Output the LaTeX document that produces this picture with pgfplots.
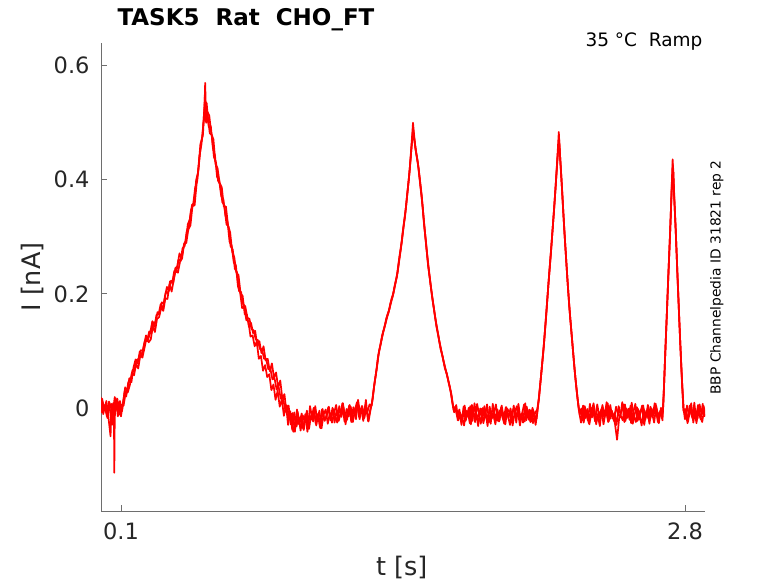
\documentclass[border=0pt]{standalone}
\usepackage{pgfplots}
\pgfplotsset{compat=1.18}
\usepackage{fontspec}
\setmainfont{DejaVu Sans}
\definecolor{axgray}{RGB}{38,38,38}
\definecolor{linegray}{RGB}{110,110,110}
\pgfplotsset{trace/.style={red, line width=1.7bp, line join=round, no marks}}
\begin{document}
\begin{tikzpicture}
\path[use as bounding box] (0,0) rectangle (778bp,583bp);
\begin{axis}[
  at={(101bp,72bp)}, anchor=south west,
  scale only axis, width=604bp, height=468bp,
  xmin=0.0043, xmax=2.896, ymin=-0.181, ymax=0.640,
  axis x line*=bottom, axis y line*=left,
  axis line style={linegray, line width=0.8bp},
  tick style={linegray, line width=0.8bp},
  tick align=inside, major tick length=6bp,
  xtick={0.1,2.8}, xticklabels={0.1,2.8},
  ytick={0,0.2,0.4,0.6}, yticklabels={0,0.2,0.4,0.6},
  ticklabel style={font=\fontsize{22.5bp}{27bp}\selectfont, text=axgray},
  xticklabel style={yshift=-8bp},
  yticklabel style={xshift=-8bp},
  xlabel={t [s]}, ylabel={I [nA]},
  label style={font=\fontsize{25.5bp}{30bp}\selectfont, text=axgray},
  xlabel style={at={(rel axis cs:0.498,-0.1197)}, anchor=center},
  ylabel style={at={(rel axis cs:-0.1126,0.5)}, anchor=center, rotate=0},
  clip=true,
]
% trace 1
\addplot[trace] coordinates {
(0.005,0.014)(0.015,-0.011)(0.025,0.006)(0.035,-0.018)(0.045,0.009)(0.055,-0.003)(0.062,-0.030)(0.066,0.005)(0.068,-0.114)(0.070,-0.020)(0.075,0.017)(0.085,-0.015)(0.095,0.012)(0.105,-0.006)(0.115,0.022)
(0.12,0.036)(0.13,0.029)(0.14,0.052)(0.15,0.045)(0.16,0.071)(0.17,0.085)(0.18,0.078)(0.19,0.099)(0.20,0.092)(0.21,0.111)(0.22,0.127)(0.23,0.120)(0.24,0.132)(0.25,0.152)(0.26,0.142)(0.27,0.163)(0.28,0.164)(0.29,0.182)(0.30,0.173)(0.31,0.195)(0.32,0.212)(0.33,0.205)(0.34,0.223)(0.35,0.219)(0.36,0.245)(0.37,0.248)(0.38,0.271)(0.39,0.262)(0.40,0.283)(0.41,0.293)(0.42,0.322)(0.43,0.331)(0.44,0.356)(0.45,0.359)(0.46,0.400)(0.47,0.414)(0.48,0.462)(0.49,0.476)(0.50,0.529)(0.503,0.570)(0.507,0.515)
(0.51,0.535)(0.52,0.493)(0.53,0.494)(0.54,0.456)(0.55,0.442)(0.56,0.405)(0.57,0.399)(0.58,0.371)(0.59,0.366)(0.60,0.337)(0.61,0.326)(0.62,0.291)(0.63,0.284)(0.64,0.255)(0.65,0.250)(0.66,0.213)(0.67,0.203)(0.68,0.175)(0.69,0.177)(0.70,0.154)(0.71,0.152)(0.72,0.125)(0.73,0.127)(0.74,0.108)(0.75,0.116)(0.76,0.086)(0.77,0.091)(0.78,0.065)(0.79,0.075)(0.80,0.054)(0.81,0.059)(0.82,0.031)(0.83,0.041)(0.84,0.014)(0.85,0.030)(0.86,0.002)(0.87,0.015)(0.88,-0.014)(0.89,0.005)(0.90,-0.030)(0.91,-0.006)(0.92,-0.039)
(0.93,-0.008)(0.94,-0.033)(0.95,-0.016)(0.96,-0.040)(0.97,-0.013)(0.98,-0.025)(0.99,-0.005)(1.00,-0.037)(1.01,-0.014)(1.02,-0.024)(1.03,0.003)(1.04,-0.022)(1.05,-0.005)(1.06,-0.036)(1.07,-0.012)(1.08,-0.003)(1.09,-0.028)(1.10,-0.009)(1.11,-0.026)(1.12,-0.009)(1.13,0.005)(1.14,-0.019)(1.15,-0.012)(1.16,0.008)(1.17,-0.024)(1.18,-0.002)(1.19,-0.015)(1.20,0.002)(1.21,-0.025)(1.22,-0.003)(1.23,0.010)(1.24,-0.016)(1.25,-0.001)(1.26,-0.023)(1.27,0.004)(1.28,-0.007)(1.29,0.006)
(1.30,0.004)(1.31,0.033)(1.32,0.058)(1.33,0.088)(1.34,0.106)(1.35,0.127)(1.36,0.139)(1.37,0.157)(1.38,0.166)(1.39,0.184)(1.40,0.195)(1.41,0.214)(1.42,0.229)(1.43,0.257)(1.44,0.280)(1.45,0.312)(1.46,0.336)(1.47,0.374)(1.48,0.408)(1.49,0.457)(1.498,0.500)(1.505,0.472)(1.51,0.453)(1.52,0.434)(1.53,0.403)(1.54,0.372)(1.55,0.325)(1.56,0.292)(1.57,0.250)(1.58,0.224)(1.59,0.193)(1.60,0.170)(1.61,0.143)(1.62,0.126)(1.63,0.103)(1.64,0.090)(1.65,0.070)(1.66,0.060)(1.67,0.042)(1.68,0.027)(1.69,0.001)
(1.70,0.000)(1.71,-0.016)(1.72,-0.003)(1.73,-0.030)(1.74,0.002)(1.75,-0.023)(1.76,-0.006)(1.77,-0.027)(1.78,0.005)(1.79,-0.014)(1.80,-0.009)(1.81,-0.032)(1.82,-0.001)(1.83,-0.020)(1.84,0.003)(1.85,-0.018)(1.86,-0.011)(1.87,-0.028)(1.88,0.007)(1.89,-0.021)(1.90,-0.005)(1.91,-0.024)(1.92,0.001)(1.93,-0.015)(1.94,-0.029)(1.95,-0.002)(1.96,-0.008)(1.97,-0.026)(1.98,0.004)(1.99,-0.017)(2.00,-0.004)(2.01,-0.031)(2.02,-0.010)(2.03,0.006)(2.04,-0.022)(2.05,-0.007)(2.06,-0.025)(2.07,0.000)(2.08,-0.013)(2.09,-0.019)
(2.098,0.009)(2.11,0.052)(2.122,0.098)(2.134,0.153)(2.146,0.215)(2.158,0.270)(2.170,0.332)(2.180,0.384)(2.188,0.432)(2.196,0.484)(2.204,0.428)(2.212,0.382)(2.222,0.313)(2.234,0.244)(2.246,0.178)(2.258,0.127)(2.270,0.073)(2.282,0.028)(2.292,-0.004)
(2.30,-0.003)(2.31,-0.022)(2.32,0.003)(2.33,-0.013)(2.34,-0.027)(2.35,0.000)(2.36,-0.006)(2.37,-0.024)(2.38,0.006)(2.39,-0.015)(2.40,-0.002)(2.41,-0.029)(2.42,-0.008)(2.43,0.008)(2.44,-0.020)(2.45,-0.005)(2.46,-0.023)(2.47,0.002)(2.48,-0.011)(2.49,-0.017)(2.50,0.010)(2.51,-0.025)(2.52,-0.001)(2.53,-0.014)(2.54,0.004)(2.55,-0.028)(2.56,-0.010)(2.57,0.001)(2.58,-0.021)(2.59,-0.004)(2.60,0.004)(2.61,-0.021)(2.62,-0.004)(2.63,-0.028)(2.64,-0.001)(2.65,-0.013)(2.66,0.007)(2.67,-0.025)(2.68,-0.008)(2.69,-0.018)
(2.696,0.002)(2.704,0.080)(2.712,0.152)(2.720,0.230)(2.728,0.298)(2.735,0.372)(2.741,0.436)(2.747,0.382)(2.754,0.328)(2.763,0.244)(2.773,0.152)(2.782,0.077)(2.792,0.001)
(2.80,-0.020)(2.81,0.004)(2.82,-0.015)(2.83,0.008)(2.84,-0.026)(2.85,-0.002)(2.86,-0.019)(2.87,0.006)(2.88,-0.012)(2.89,0.003)(2.895,-0.014)
};
% trace 2
\addplot[trace] coordinates {
(0.004,-0.009)(0.010,0.016)(0.020,-0.004)(0.030,0.012)(0.040,-0.017)(0.050,-0.050)(0.055,0.007)(0.060,-0.013)(0.070,0.019)(0.080,-0.001)(0.090,0.010)(0.100,-0.015)(0.110,0.010)(0.118,0.030)
(0.125,0.020)(0.135,0.045)(0.145,0.046)(0.155,0.066)(0.165,0.068)(0.175,0.084)(0.185,0.086)(0.195,0.101)(0.205,0.100)(0.215,0.118)(0.225,0.117)(0.235,0.134)(0.245,0.131)(0.255,0.150)(0.265,0.149)(0.275,0.168)(0.285,0.165)(0.295,0.185)(0.305,0.183)(0.315,0.203)(0.325,0.201)(0.335,0.222)(0.345,0.219)(0.355,0.240)(0.365,0.238)(0.375,0.260)(0.385,0.258)(0.395,0.280)(0.405,0.284)(0.415,0.310)(0.425,0.318)(0.435,0.347)(0.445,0.355)(0.455,0.386)(0.465,0.398)(0.475,0.440)(0.485,0.462)(0.495,0.500)(0.502,0.515)(0.508,0.500)
(0.515,0.512)(0.525,0.482)(0.535,0.478)(0.545,0.440)(0.555,0.430)(0.565,0.398)(0.575,0.392)(0.585,0.361)(0.595,0.355)(0.605,0.322)(0.615,0.318)(0.625,0.283)(0.635,0.278)(0.645,0.244)(0.655,0.238)(0.665,0.205)(0.675,0.203)(0.685,0.182)(0.695,0.178)(0.705,0.158)(0.715,0.156)(0.725,0.138)(0.735,0.136)(0.745,0.120)(0.755,0.119)(0.765,0.103)(0.775,0.103)(0.785,0.086)(0.795,0.086)(0.805,0.068)(0.815,0.069)(0.825,0.050)(0.835,0.052)(0.845,0.032)(0.855,0.036)(0.865,0.016)(0.875,0.020)(0.885,-0.002)(0.895,0.004)(0.905,-0.020)(0.915,-0.010)(0.925,-0.042)
(0.935,-0.031)(0.945,-0.006)(0.955,-0.026)(0.965,-0.010)(0.975,-0.039)(0.985,-0.015)(0.995,-0.035)(1.005,0.003)(1.015,-0.017)(1.025,-0.006)(1.035,-0.031)(1.045,-0.011)(1.055,-0.036)(1.065,-0.002)(1.075,-0.023)(1.085,-0.014)(1.095,0.002)(1.105,-0.021)(1.115,-0.002)(1.125,-0.013)(1.135,-0.026)(1.145,0.003)(1.155,-0.016)(1.165,0.001)(1.175,-0.029)(1.185,-0.006)(1.195,0.005)(1.205,-0.014)(1.215,-0.005)(1.225,-0.020)(1.235,0.014)(1.245,-0.011)(1.255,0.003)(1.265,-0.018)(1.275,0.000)(1.285,-0.024)(1.295,-0.003)
(1.305,0.016)(1.315,0.047)(1.325,0.070)(1.335,0.099)(1.345,0.114)(1.355,0.134)(1.365,0.146)(1.375,0.163)(1.385,0.173)(1.395,0.191)(1.405,0.202)(1.415,0.222)(1.425,0.240)(1.435,0.270)(1.445,0.294)(1.455,0.326)(1.465,0.354)(1.475,0.390)(1.485,0.430)(1.494,0.470)(1.500,0.480)(1.507,0.463)(1.515,0.442)(1.525,0.420)(1.535,0.386)(1.545,0.350)(1.555,0.307)(1.565,0.270)(1.575,0.236)(1.585,0.208)(1.595,0.181)(1.605,0.156)(1.615,0.134)(1.625,0.114)(1.635,0.097)(1.645,0.080)(1.655,0.065)(1.665,0.051)(1.675,0.036)(1.685,0.012)(1.695,-0.008)
(1.705,0.005)(1.715,-0.022)(1.725,-0.012)(1.735,-0.021)(1.745,0.004)(1.755,-0.016)(1.765,0.000)(1.775,-0.029)(1.785,-0.005)(1.795,-0.025)(1.805,0.007)(1.815,-0.013)(1.825,-0.002)(1.835,-0.027)(1.845,-0.007)(1.855,-0.032)(1.865,0.002)(1.875,-0.019)(1.885,-0.010)(1.895,0.006)(1.905,-0.023)(1.915,-0.004)(1.925,-0.015)(1.935,-0.028)(1.945,0.001)(1.955,-0.018)(1.965,-0.001)(1.975,-0.031)(1.985,-0.008)(1.995,0.003)(2.005,-0.020)(2.015,-0.011)(2.025,-0.026)(2.035,0.008)(2.045,-0.017)(2.055,-0.003)(2.065,-0.024)(2.075,-0.006)(2.085,-0.030)(2.093,-0.008)
(2.102,0.020)(2.114,0.068)(2.126,0.118)(2.138,0.176)(2.150,0.235)(2.162,0.292)(2.174,0.350)(2.184,0.405)(2.192,0.448)(2.198,0.465)(2.206,0.420)(2.216,0.352)(2.228,0.280)(2.240,0.210)(2.252,0.152)(2.264,0.100)(2.276,0.050)(2.288,0.010)(2.296,-0.012)
(2.305,-0.001)(2.315,-0.026)(2.325,-0.006)(2.335,-0.022)(2.345,0.007)(2.355,-0.017)(2.365,0.003)(2.375,-0.029)(2.385,-0.009)(2.395,-0.020)(2.405,0.005)(2.415,-0.015)(2.425,0.010)(2.435,-0.024)(2.445,-0.003)(2.455,-0.012)(2.465,-0.028)(2.475,-0.056)(2.485,-0.018)(2.495,-0.007)(2.505,0.006)(2.515,-0.023)(2.525,-0.004)(2.535,-0.021)(2.545,0.009)(2.555,-0.014)(2.565,-0.025)(2.575,-0.002)(2.585,-0.011)(2.595,0.004)(2.605,-0.030)(2.615,-0.005)(2.625,-0.019)(2.635,0.002)(2.645,-0.016)(2.655,0.008)(2.665,-0.013)(2.675,-0.027)(2.685,0.000)(2.693,-0.010)
(2.700,0.040)(2.708,0.118)(2.716,0.190)(2.724,0.262)(2.732,0.336)(2.739,0.405)(2.744,0.420)(2.750,0.360)(2.758,0.290)(2.768,0.200)(2.777,0.118)(2.787,0.040)(2.795,-0.008)
(2.805,-0.002)(2.815,-0.024)(2.825,0.002)(2.835,-0.018)(2.845,0.009)(2.855,-0.027)(2.865,-0.004)(2.875,-0.020)(2.885,0.007)(2.894,-0.016)
};
% trace 3
\addplot[trace] coordinates {
(0.0025,0.019)(0.0125,-0.007)(0.0225,0.003)(0.0325,-0.015)(0.0425,0.011)(0.0525,-0.020)(0.0625,0.008)(0.0725,-0.002)(0.0825,0.016)(0.0925,-0.012)(0.1025,0.005)(0.1125,0.004)
(0.1225,0.027)(0.1325,0.027)(0.1425,0.040)(0.1525,0.062)(0.1625,0.057)(0.1725,0.077)(0.1825,0.069)(0.1925,0.092)(0.2025,0.088)(0.2125,0.105)(0.2225,0.123)(0.2325,0.115)(0.2425,0.120)(0.2525,0.143)(0.2625,0.133)(0.2725,0.156)(0.2825,0.159)(0.2925,0.176)(0.3025,0.170)(0.3125,0.192)(0.3225,0.191)(0.3325,0.217)(0.3425,0.204)(0.3525,0.224)(0.3625,0.242)(0.3725,0.237)(0.3825,0.256)(0.3925,0.262)(0.4025,0.289)(0.4125,0.289)(0.4225,0.313)(0.4325,0.320)(0.4425,0.355)(0.4525,0.355)(0.4625,0.395)(0.4725,0.425)(0.4825,0.462)(0.4925,0.480)(0.5015,0.545)
(0.5075,0.510)(0.5125,0.520)(0.5225,0.513)(0.5325,0.481)(0.5425,0.471)(0.5525,0.428)(0.5625,0.420)(0.5725,0.394)(0.5825,0.387)(0.5925,0.353)(0.6025,0.353)(0.6125,0.320)(0.6225,0.308)(0.6325,0.274)(0.6425,0.264)(0.6525,0.237)(0.6625,0.233)(0.6725,0.201)(0.6825,0.196)(0.6925,0.164)(0.7025,0.164)(0.7125,0.142)(0.7225,0.149)(0.7325,0.131)(0.7425,0.135)(0.7525,0.109)(0.7625,0.117)(0.7725,0.096)(0.7825,0.108)(0.7925,0.083)(0.8025,0.086)(0.8125,0.064)(0.8225,0.078)(0.8325,0.053)(0.8425,0.062)(0.8525,0.035)(0.8625,0.048)(0.8725,0.016)(0.8825,0.024)(0.8925,-0.008)(0.9025,0.004)(0.9125,-0.029)(0.9225,-0.009)(0.9325,-0.042)
(0.9425,-0.003)(0.9525,-0.029)(0.9625,-0.019)(0.9725,-0.037)(0.9825,-0.011)(0.9925,-0.042)(1.0025,-0.014)(1.0125,-0.018)(1.0225,0.000)(1.0325,-0.028)(1.0425,-0.011)(1.0525,-0.034)(1.0625,-0.003)(1.0725,-0.020)(1.0825,-0.016)(1.0925,0.001)(1.1025,-0.022)(1.1125,0.000)(1.1225,-0.026)(1.1325,-0.004)(1.1425,-0.023)(1.1525,-0.008)(1.1625,0.008)(1.1725,-0.016)(1.1825,-0.021)(1.1925,0.004)(1.2025,-0.025)(1.2125,0.001)(1.2225,-0.009)(1.2325,0.006)(1.2425,-0.020)(1.2525,0.003)(1.2625,-0.014)(1.2725,0.014)(1.2825,-0.023)(1.2925,-0.005)
(1.3025,0.010)(1.3125,0.040)(1.3225,0.064)(1.3325,0.093)(1.3425,0.112)(1.3625,0.143)(1.3825,0.170)(1.4025,0.198)(1.4225,0.233)(1.4425,0.286)(1.4625,0.346)(1.4825,0.418)(1.4925,0.465)(1.4985,0.490)(1.5065,0.466)(1.5225,0.425)(1.5425,0.358)(1.5625,0.280)(1.5825,0.215)(1.6025,0.163)(1.6225,0.120)(1.6425,0.085)(1.6625,0.055)(1.6825,0.022)(1.6925,-0.004)
(1.7025,0.003)(1.7125,-0.022)(1.7225,-0.008)(1.7325,-0.017)(1.7425,-0.031)(1.7525,-0.005)(1.7625,-0.015)(1.7725,0.003)(1.7825,-0.023)(1.7925,0.008)(1.8025,-0.020)(1.8125,-0.010)(1.8225,-0.028)(1.8325,0.000)(1.8425,-0.017)(1.8525,0.006)(1.8625,-0.025)(1.8725,-0.008)(1.8825,-0.012)(1.8925,-0.029)(1.9025,-0.003)(1.9125,-0.022)(1.9225,0.004)(1.9325,-0.018)(1.9425,0.001)(1.9525,-0.014)(1.9625,-0.030)(1.9725,-0.006)(1.9825,-0.001)(1.9925,-0.026)(2.0025,0.007)(2.0125,-0.019)(2.0225,-0.009)(2.0325,-0.024)(2.0425,0.002)(2.0525,-0.021)(2.0625,-0.004)(2.0725,-0.027)(2.0825,-0.009)(2.0925,-0.003)
(2.1005,0.015)(2.112,0.060)(2.124,0.108)(2.136,0.165)(2.148,0.225)(2.160,0.281)(2.172,0.341)(2.182,0.395)(2.190,0.440)(2.197,0.474)(2.205,0.424)(2.214,0.367)(2.225,0.297)(2.237,0.227)(2.249,0.165)(2.261,0.113)(2.273,0.062)(2.285,0.019)(2.294,-0.008)
(2.3025,-0.026)(2.3125,0.004)(2.3225,-0.018)(2.3325,-0.002)(2.3425,-0.029)(2.3525,-0.007)(2.3625,0.008)(2.3725,-0.021)(2.3825,-0.013)(2.3925,-0.032)(2.4025,0.001)(2.4125,-0.016)(2.4225,-0.006)(2.4325,-0.025)(2.4425,0.005)(2.4525,-0.019)(2.4625,-0.009)(2.4725,-0.030)(2.4825,0.003)(2.4925,-0.014)(2.5025,-0.022)(2.5125,0.006)(2.5225,-0.018)(2.5325,-0.001)(2.5425,-0.027)(2.5525,-0.008)(2.5625,0.007)(2.5725,-0.023)(2.5825,-0.012)(2.5925,-0.031)(2.6025,-0.002)(2.6125,-0.017)(2.6225,0.005)(2.6325,-0.020)(2.6425,-0.009)(2.6525,-0.026)(2.6625,0.003)(2.6725,-0.015)(2.6825,-0.005)(2.6925,-0.022)
(2.698,0.020)(2.706,0.099)(2.714,0.171)(2.722,0.246)(2.730,0.318)(2.737,0.390)(2.742,0.428)(2.748,0.372)(2.756,0.310)(2.765,0.222)(2.775,0.135)(2.784,0.058)(2.793,-0.005)
(2.8025,-0.008)(2.8125,-0.027)(2.8225,0.004)(2.8325,-0.013)(2.8425,-0.003)(2.8525,-0.022)(2.8625,0.005)(2.8725,-0.015)(2.8825,-0.025)(2.8925,-0.001)
};
\end{axis}
\node[anchor=base west, font=\fontsize{23bp}{28bp}\selectfont\bfseries] at (114bp,557bp) {TASK5\ \ Rat\ \ CHO\_FT};
\node[anchor=base east, font=\fontsize{18.5bp}{22bp}\selectfont] at (706bp,536.5bp) {35 °C\ \ Ramp};
\node[rotate=90, anchor=center, font=\fontsize{13.8bp}{16bp}\selectfont] at (716.7bp,305.5bp) {BBP Channelpedia ID 31821 rep 2};
\end{tikzpicture}
\end{document}
